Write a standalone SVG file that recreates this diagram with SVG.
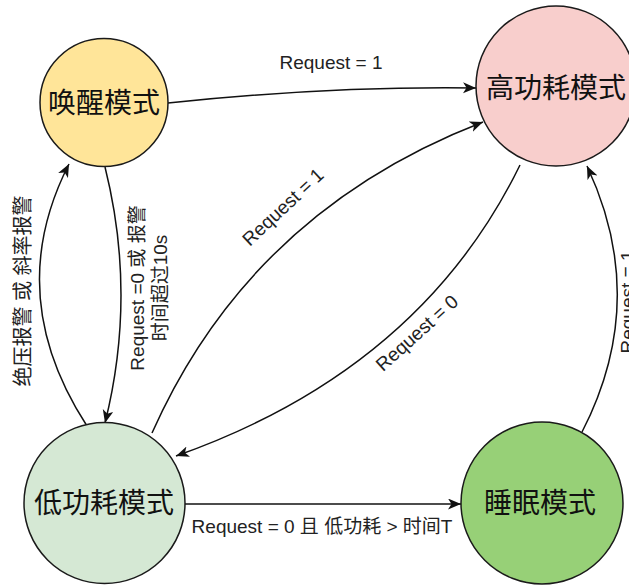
<svg xmlns="http://www.w3.org/2000/svg" width="629" height="585" viewBox="0 0 629 585">
<style>
.node{stroke:#1a1a1a;stroke-width:1.5}
.ntext{font-family:"Liberation Sans","Noto Sans CJK SC",sans-serif;font-size:28px;fill:#111;text-anchor:middle}
.edge{fill:none;stroke:#111;stroke-width:1.5}
.lbl{font-family:"Liberation Sans","Noto Sans CJK SC",sans-serif;font-size:19px;fill:#222;text-anchor:middle}
</style>
<defs>
<marker id="arr" markerUnits="userSpaceOnUse" markerWidth="14" markerHeight="12" refX="13" refY="5.5" orient="auto">
<path d="M0,0 L13,5.5 L0,11 L3.5,5.5 Z" fill="#111"/>
</marker>
</defs>
<rect width="629" height="585" fill="#ffffff"/>
<g id="connectors">
<path class="edge" d="M168,103 Q330,86 476,88" marker-end="url(#arr)"/>
<path class="edge" d="M185,504 L461,504" marker-end="url(#arr)"/>
<path class="edge" d="M152,433 Q250,212 483,122" marker-end="url(#arr)"/>
<path class="edge" d="M520,165 Q420,370 176,456" marker-end="url(#arr)"/>
<path class="edge" d="M87,426 Q2,295 69,164" marker-end="url(#arr)"/>
<path class="edge" d="M105,167 Q137,295 105,423" marker-end="url(#arr)"/>
<path class="edge" d="M582,432 Q650,300 587,166" marker-end="url(#arr)"/>
<text class="lbl" x="331" y="69">Request = 1</text>
<text class="lbl" x="322" y="533">Request = 0 且 低功耗 &gt; 时间T</text>
<text class="lbl" transform="translate(283,207) rotate(-43)" x="0" y="6.5">Request = 1</text>
<text class="lbl" transform="translate(417,333) rotate(-42)" x="0" y="6.5">Request = 0</text>
<text class="lbl" style="font-size:20px" transform="translate(23,291) rotate(-90)" x="0" y="7">绝压报警 或 斜率报警</text>
<text class="lbl" transform="translate(148.5,288) rotate(-90)" x="0"><tspan x="0" y="-5">Request =0 或 报警</tspan><tspan x="0" y="18">时间超过10s</tspan></text>
<text class="lbl" transform="translate(627,302) rotate(-90)" x="0" y="6.5">Request = 1</text>
</g>
<g id="wake">
<circle class="node" cx="104" cy="102.5" r="64" fill="#FFE599"/>
<text class="ntext" x="104" y="113">唤醒模式</text>
</g>
<g id="high">
<circle class="node" cx="556" cy="86" r="80" fill="#F8CECC"/>
<text class="ntext" x="556" y="98">高功耗模式</text>
</g>
<g id="low">
<circle class="node" cx="104.5" cy="503" r="80.5" fill="#D5E8D4"/>
<text class="ntext" x="104" y="513">低功耗模式</text>
</g>
<g id="sleep">
<circle class="node" cx="542" cy="503" r="81" fill="#97D077"/>
<text class="ntext" x="540" y="513">睡眠模式</text>
</g>
</svg>
